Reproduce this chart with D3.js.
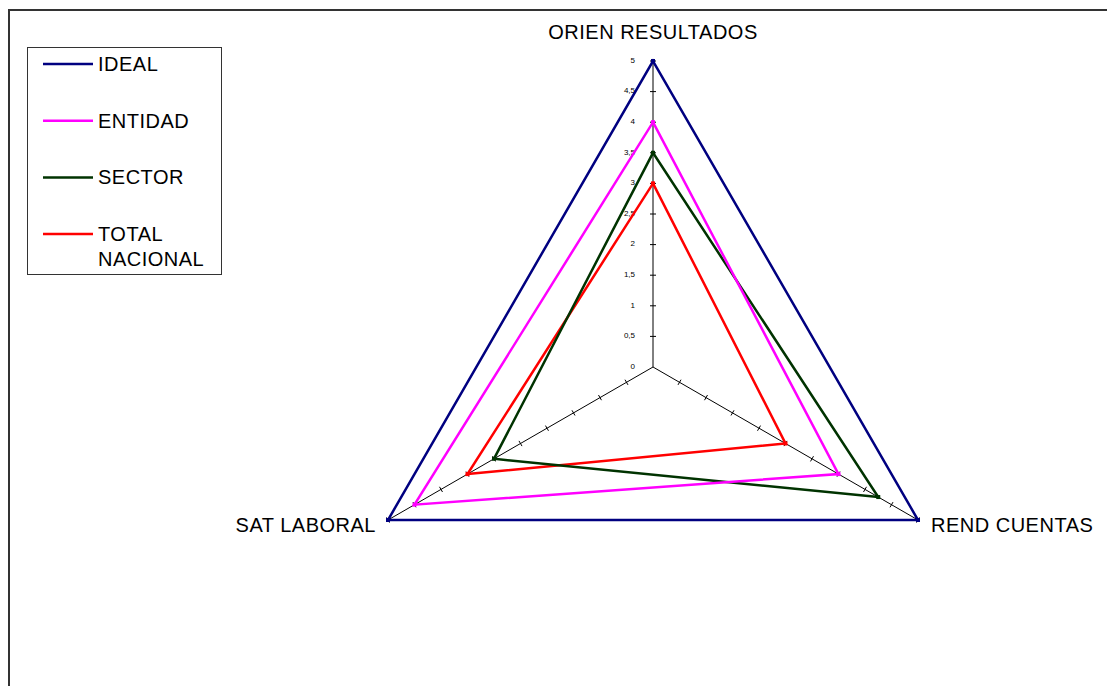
<!DOCTYPE html>
<html lang="en">
<head>
	<meta charset="UTF-8">
	<title>radar</title>
	<script src="https://d3js.org/d3.v7.min.js"></script>
	<style type="text/css">
		body { margin: 0; background: #fff; }
		svg { font-family: "Liberation Sans", Arial, sans-serif; }
		.axis-line { stroke: #000; stroke-width: 1; }
		.serie { fill: none; stroke-width: 2.5; stroke-linejoin: miter; }
		.lbl { font-size: 20px; letter-spacing: 0.5px; fill: #000; }
	</style>
</head>
<body>
<script type="text/javascript">

	// data
	var axes = ['ORIEN RESULTADOS', 'REND CUENTAS', 'SAT LABORAL'];
	var seriesNames = ['IDEAL', 'ENTIDAD', 'SECTOR', 'TOTAL NACIONAL'];
	var ideal = [5, 5, 5];
	var entidad = [4, 3.5, 4.5];
	var sector = [3.5, 4.25, 3];
	var totalNacional = [3, 2.5, 3.5];
	var tickValues = [0, 0.5, 1, 1.5, 2, 2.5, 3, 3.5, 4, 4.5, 5];
	var colors = ['#000080', '#ff00ff', '#003300', '#ff0000'];

	var allSeries = [ideal, entidad, sector, totalNacional];

	var width = 1107, height = 686;
	var cx = 653, cy = 367;

	var svg = d3.select('body').append('svg')
		.attr('width', width)
		.attr('height', height);

	// outer frame
	svg.append('rect')
		.attr('x', 9)
		.attr('y', 10)
		.attr('width', width + 20)
		.attr('height', height + 20)
		.style('fill', 'none')
		.style('stroke', '#333')
		.style('stroke-width', 2);

	var r = d3.scaleLinear().domain([0, 5]).range([0, 306]);
	var angle = d3.scaleOrdinal().domain(axes).range([-90, 30, 150]);

	function pt(axisName, v) {
		var a = angle(axisName) * Math.PI / 180;
		return [cx + r(v) * Math.cos(a), cy + r(v) * Math.sin(a)];
	}

	var g = svg.append('g');

	// axis lines + tick marks
	axes.forEach(function (ax) {
		var end = pt(ax, 5);
		g.append('line')
			.attr('class', 'axis-line')
			.attr('x1', cx).attr('y1', cy)
			.attr('x2', end[0]).attr('y2', end[1]);

		var a = angle(ax) * Math.PI / 180;
		var px = -Math.sin(a), py = Math.cos(a); // perpendicular
		tickValues.forEach(function (t) {
			if (t === 0) return;
			var p = pt(ax, t);
			g.append('line')
				.attr('class', 'axis-line')
				.attr('x1', p[0] - px * 3).attr('y1', p[1] - py * 3)
				.attr('x2', p[0] + px * 3).attr('y2', p[1] + py * 3);
		});
	});

	// tick labels on vertical axis
	g.selectAll('.tlabel')
		.data(tickValues)
		.enter().append('text')
		.attr('class', 'tlabel')
		.attr('x', cx - 18)
		.attr('y', function (d) { return pt(axes[0], d)[1] - 1; })
		.attr('dy', '0.35em')
		.style('text-anchor', 'end')
		.style('font-size', '8px')
		.style('fill', '#000')
		.text(function (d) { return String(d).replace('.', ','); });

	// series
	var line = d3.line()
		.x(function (d) { return d[0]; })
		.y(function (d) { return d[1]; })
		.curve(d3.curveLinearClosed);

	allSeries.slice().reverse().forEach(function (s, k) {
		var i = allSeries.length - 1 - k;
		var pts = s.map(function (v, j) { return pt(axes[j], v); });
		g.append('path')
			.attr('class', 'serie')
			.attr('d', line(pts))
			.style('stroke', colors[i]);
		g.selectAll('.m' + i)
			.data(pts)
			.enter().append('rect')
			.attr('x', function (d) { return d[0] - 2; })
			.attr('y', function (d) { return d[1] - 2; })
			.attr('width', 4).attr('height', 4)
			.style('fill', colors[i]);
	});

	// axis labels
	var pTop = pt(axes[0], 5);
	svg.append('text')
		.attr('class', 'lbl')
		.attr('x', pTop[0]).attr('y', 39)
		.style('text-anchor', 'middle')
		.text(axes[0]);
	var pRend = pt(axes[1], 5);
	svg.append('text')
		.attr('class', 'lbl')
		.attr('x', pRend[0] + 13).attr('y', pRend[1] + 12)
		.style('text-anchor', 'start')
		.text(axes[1]);
	var pSat = pt(axes[2], 5);
	svg.append('text')
		.attr('class', 'lbl')
		.attr('x', pSat[0] - 12).attr('y', pSat[1] + 12)
		.style('text-anchor', 'end')
		.text(axes[2]);

	// legend
	var legend = svg.append('g');
	legend.append('rect')
		.attr('x', 27.5).attr('y', 47.5)
		.attr('width', 194).attr('height', 227)
		.style('fill', '#fff')
		.style('stroke', '#333')
		.style('stroke-width', 1);

	var items = legend.selectAll('.info')
		.data(seriesNames)
		.enter().append('g')
		.attr('class', 'info')
		.attr('transform', function (d, i) { return 'translate(0,' + (64 + i * 56.7) + ')'; });
	items.append('line')
		.attr('x1', 43).attr('x2', 93)
		.attr('y1', 0).attr('y2', 0)
		.style('stroke', function (d, i) { return colors[i]; })
		.style('stroke-width', 2.5);
	items.append('text')
		.attr('class', 'lbl')
		.attr('x', 98)
		.attr('y', 0)
		.each(function (d) {
			var parts = d.split(' ');
			var t = d3.select(this);
			parts.forEach(function (p, j) {
				t.append('tspan')
					.attr('x', 98)
					.attr('dy', j === 0 ? '0.35em' : '25px')
					.text(p);
			});
		});

</script>
</body>
</html>
